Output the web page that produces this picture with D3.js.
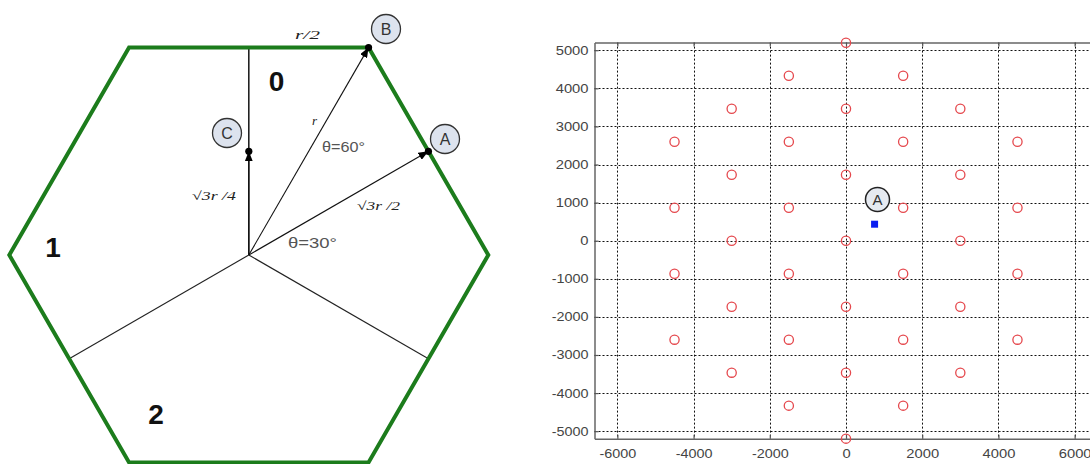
<!DOCTYPE html>
<html>
<head>
<meta charset="utf-8">
<script src="https://cdn.jsdelivr.net/npm/d3@7"></script>
<style>
  html, body { margin: 0; padding: 0; background: #fff; }
  svg { display: block; }
</style>
</head>
<body>
<svg id="chart" width="1090" height="464"></svg>
<script>
// ---------- DATA ----------
// Left diagram (units of r)
const hexVertexAngles = [0, 60, 120, 180, 240, 300];
const sectorBorderAngles = [90, 210, 330];
const arrowNames = ["B", "A", "C"];
const arrowAngles = [60, 30, 90];
const arrowLengths = [1, Math.sqrt(3) / 2, Math.sqrt(3) / 4];
const sectorNames = ["0", "1", "2"];

// Right chart: cell sites (metres) and user location A
const siteX = [0,
  -1500, 1500,
  -3000, 0, 3000,
  -4500, -1500, 1500, 4500,
  -3000, 0, 3000,
  -4500, -1500, 1500, 4500,
  -3000, 0, 3000,
  -4500, -1500, 1500, 4500,
  -3000, 0, 3000,
  -4500, -1500, 1500, 4500,
  -3000, 0, 3000,
  -1500, 1500,
  0];
const siteY = [5196,
  4330, 4330,
  3464, 3464, 3464,
  2598, 2598, 2598, 2598,
  1732, 1732, 1732,
  866, 866, 866, 866,
  0, 0, 0,
  -866, -866, -866, -866,
  -1732, -1732, -1732,
  -2598, -2598, -2598, -2598,
  -3464, -3464, -3464,
  -4330, -4330,
  -5196];
const userX = [750];
const userY = [433];
const xTicks = [-6000, -4000, -2000, 0, 2000, 4000, 6000];
const yTicks = [5000, 4000, 3000, 2000, 1000, 0, -1000, -2000, -3000, -4000, -5000];

// ---------- LEFT DIAGRAM ----------
const svg = d3.select("#chart");
const rad = d => d * Math.PI / 180;
const xL = d3.scaleLinear().domain([-1, 1]).range([9.3, 488.3]);
const yL = d3.scaleLinear().domain([-Math.sqrt(3) / 2, Math.sqrt(3) / 2]).range([462.4, 47.6]);
const left = svg.append("g");

const defs = svg.append("defs");
defs.append("marker").attr("id", "arr")
  .attr("viewBox", "0 0 10 8").attr("refX", 10).attr("refY", 4)
  .attr("markerWidth", 10).attr("markerHeight", 8)
  .attr("markerUnits", "userSpaceOnUse").attr("orient", "auto")
  .append("path").attr("d", "M0,0 L10,4 L0,8 Z").attr("fill", "#000");

// sector borders (center to edge midpoints)
left.selectAll("line.border").data(sectorBorderAngles).enter().append("line")
  .attr("x1", xL(0)).attr("y1", yL(0))
  .attr("x2", a => xL(Math.sqrt(3) / 2 * Math.cos(rad(a))))
  .attr("y2", a => yL(Math.sqrt(3) / 2 * Math.sin(rad(a))))
  .attr("stroke", "#222").attr("stroke-width", a => a === 90 ? 1.6 : 1.1);

// arrows
const arrows = arrowNames.map((n, i) => ({ name: n, a: arrowAngles[i], l: arrowLengths[i] }));
left.selectAll("line.arrow").data(arrows).enter().append("line")
  .attr("x1", xL(0)).attr("y1", yL(0))
  .attr("x2", d => xL(d.l * Math.cos(rad(d.a))))
  .attr("y2", d => yL(d.l * Math.sin(rad(d.a))))
  .attr("stroke", "#111").attr("stroke-width", 1.1)
  .attr("marker-end", "url(#arr)");

// hexagon
const hexLine = d3.line().x(a => xL(Math.cos(rad(a)))).y(a => yL(Math.sin(rad(a)))).curve(d3.curveLinearClosed);
left.append("path").attr("d", hexLine(hexVertexAngles))
  .attr("fill", "none").attr("stroke", "#1c7c1c").attr("stroke-width", 4)
  .attr("stroke-linejoin", "miter");

// arrow end dots
left.selectAll("circle.dot").data(arrows).enter().append("circle")
  .attr("cx", d => xL(d.l * Math.cos(rad(d.a))))
  .attr("cy", d => yL(d.l * Math.sin(rad(d.a))))
  .attr("r", 3.6).attr("fill", "#000");

// point label badges
const badgePos = { B: [386, 29], A: [445, 139], C: [227, 133] };
arrows.forEach(d => {
  const [bx, by] = badgePos[d.name];
  left.append("circle").attr("cx", bx).attr("cy", by).attr("r", 14.5)
    .attr("fill", "#dde3ee").attr("stroke", "#333").attr("stroke-width", 1.3);
  left.append("text").attr("x", bx).attr("y", by + 6).attr("text-anchor", "middle")
    .attr("font-family", "Liberation Sans, Arial, sans-serif").attr("font-size", 16)
    .attr("fill", "#333").text(d.name);
});

// sector numbers
const sectorPos = [[276.5, 90.5], [53, 257], [156, 424]];
sectorNames.forEach((s, i) => {
  left.append("text").attr("x", sectorPos[i][0]).attr("y", sectorPos[i][1])
    .attr("text-anchor", "middle").attr("font-family", "Liberation Sans, Arial, sans-serif")
    .attr("font-weight", "bold").attr("font-size", 28).attr("fill", "#111").text(s);
});

// annotations
function ann(x, y, txt, opts) {
  const t = left.append("text").attr("x", x).attr("y", y)
    .attr("font-family", opts.family || "Liberation Sans, Arial, sans-serif")
    .attr("font-size", opts.size || 13).attr("fill", opts.fill || "#333")
    .attr("font-style", opts.style || "normal").text(txt);
  if (opts.len) t.attr("textLength", opts.len).attr("lengthAdjust", "spacingAndGlyphs");
  return t;
}
ann(295, 39, "r/2", { family: "Liberation Serif, serif", style: "italic", size: 13, fill: "#222", len: 25 });
ann(312, 125, "r", { family: "Liberation Serif, serif", style: "italic", size: 13, fill: "#222" });
ann(322, 152, "θ=60°", { size: 14, fill: "#555", len: 43 });
ann(288, 248, "θ=30°", { size: 14, fill: "#555", len: 49 });
ann(192, 200, "√3r /4", { family: "Liberation Serif, serif", style: "italic", size: 12, fill: "#222", len: 44 });
ann(357, 210, "√3r /2", { family: "Liberation Serif, serif", style: "italic", size: 12, fill: "#222", len: 43 });

// ---------- RIGHT CHART ----------
const xR = d3.scaleLinear().domain([-6600, 6600]).range([594.5, 1097.5]);
const yR = d3.scaleLinear().domain([-5200, 5200]).range([438.8, 42.6]);
const right = svg.append("g");
const [x0, x1] = xR.range();
const [yb, yt] = yR.range();

// grid
right.selectAll("line.vg").data(xTicks).enter().append("line")
  .attr("x1", d => Math.round(xR(d)) + 0.5).attr("x2", d => Math.round(xR(d)) + 0.5).attr("y1", yt).attr("y2", yb)
  .attr("stroke", "#111").attr("stroke-width", 1).attr("stroke-dasharray", "2,2");
right.selectAll("line.hg").data(yTicks).enter().append("line")
  .attr("x1", x0).attr("x2", x1).attr("y1", d => Math.round(yR(d)) + 0.5).attr("y2", d => Math.round(yR(d)) + 0.5)
  .attr("stroke", "#111").attr("stroke-width", 1).attr("stroke-dasharray", "2,2");

// axes
const axB = right.append("g").attr("transform", `translate(0,${yb})`)
  .call(d3.axisBottom(xR).tickValues(xTicks).tickSizeInner(-4).tickSizeOuter(0).tickPadding(8).tickFormat(d3.format("d")));
const axL = right.append("g").attr("transform", `translate(${x0},0)`)
  .call(d3.axisLeft(yR).tickValues(yTicks).tickSizeInner(-4).tickSizeOuter(0).tickPadding(6).tickFormat(d3.format("d")));
const axT = right.append("g").attr("transform", `translate(0,${yt})`)
  .call(d3.axisTop(xR).tickValues(xTicks).tickSizeInner(-4).tickSizeOuter(0).tickFormat(""));
[axB, axL, axT].forEach(ax => {
  ax.selectAll(".domain").attr("stroke", "#666").attr("stroke-width", 1.5);
  ax.selectAll(".tick line").attr("stroke", "#555").attr("stroke-width", 1.2);
  ax.selectAll("text").attr("font-family", "Liberation Sans, Arial, sans-serif")
    .attr("font-size", 12.5).attr("fill", "#444")
    .text(function () { return d3.select(this).text().replace("−", "-"); })
    .attr("textLength", function () {
      const s = d3.select(this).text();
      const digits = s.replace("-", "").length;
      return digits * 8.2 + (s.startsWith("-") ? 4 : 0);
    })
    .attr("lengthAdjust", "spacingAndGlyphs");
});
axB.selectAll("text").attr("dy", "0.9em");

// sites
right.selectAll("circle.site").data(siteX.map((x, i) => [x, siteY[i]])).enter().append("circle")
  .attr("cx", d => xR(d[0])).attr("cy", d => yR(d[1])).attr("r", 4.6)
  .attr("fill", "none").attr("stroke", "#e5484d").attr("stroke-width", 1.3);

// user point
right.selectAll("rect.user").data(userX.map((x, i) => [x, userY[i]])).enter().append("rect")
  .attr("x", d => xR(d[0]) - 3.5).attr("y", d => yR(d[1]) - 3.5)
  .attr("width", 7).attr("height", 7).attr("fill", "#0a1ef0");

// badge A
right.append("circle").attr("cx", 877.5).attr("cy", 199.5).attr("r", 12)
  .attr("fill", "#e6eaf1").attr("stroke", "#222").attr("stroke-width", 1.5);
right.append("text").attr("x", 877.5).attr("y", 205).attr("text-anchor", "middle")
  .attr("font-family", "Liberation Sans, Arial, sans-serif").attr("font-size", 15)
  .attr("fill", "#333").text("A");
</script>
</body>
</html>
